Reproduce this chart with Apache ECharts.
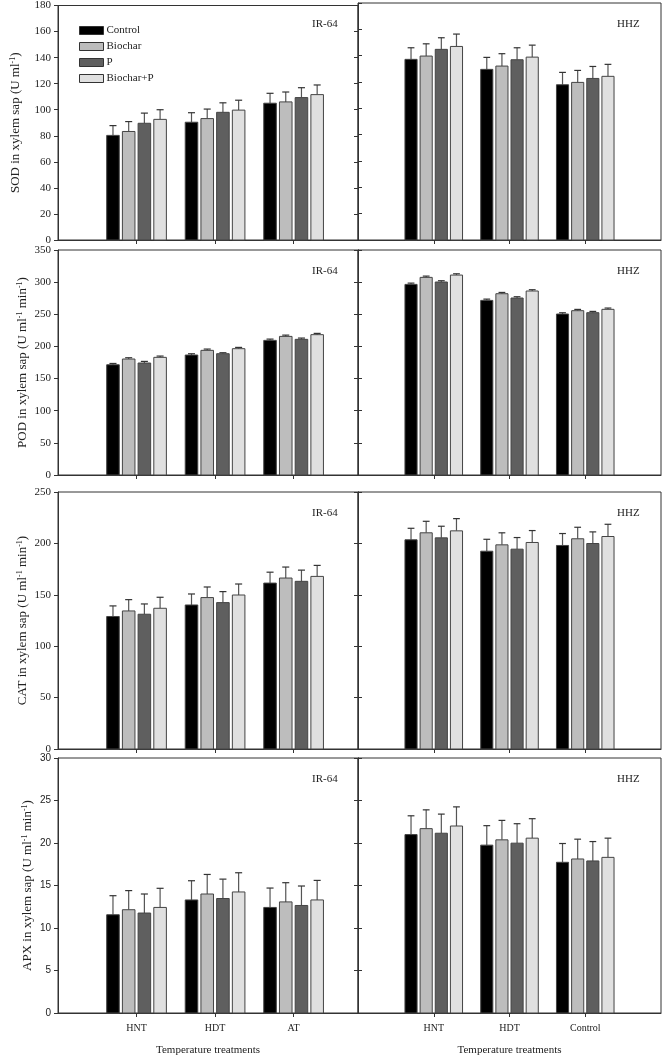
<!DOCTYPE html>
<html><head><meta charset="utf-8">
<script src="https://cdn.jsdelivr.net/npm/echarts@6/dist/echarts.min.js"></script>
<style>html,body{margin:0;padding:0;background:#fff}#c{width:664px;height:1057px}</style>
</head><body><div id="c"></div>
<script>
const treatments = ['Control', 'Biochar', 'P', 'Biochar+P'];
const catsIR64 = ['HNT', 'HDT', 'AT'];
const catsHHZ = ['HNT', 'HDT', 'Control'];
const cultivars = ['IR-64', 'HHZ'];

// rows = treatments, columns = categories
const sodIR64 = [[80.3, 90.4, 105.0], [83.3, 93.2, 106.0], [89.6, 98.0, 109.3], [92.6, 99.7, 111.6]];
const sodIR64Err = [[7.5, 7.3, 7.6], [7.6, 7.3, 7.6], [7.8, 7.3, 7.6], [7.4, 7.6, 7.4]];
const sodHHZ = [[137.2, 129.6, 117.9], [139.7, 132.1, 119.7], [144.8, 136.9, 122.7], [147.0, 138.9, 124.3]];
const sodHHZErr = [[8.8, 9.1, 9.4], [9.3, 9.4, 9.1], [8.8, 9.1, 9.1], [9.4, 9.1, 9.1]];

const podIR64 = [[171.5, 186.6, 209.4], [180.4, 193.9, 215.6], [174.2, 188.7, 211.0], [183.0, 196.5, 218.3]];
const podIR64Err = [[2, 2, 2], [2, 2, 2], [2.5, 1.5, 2], [2, 2, 2]];
const podHHZ = [[296.5, 271.6, 250.4], [307.4, 282.0, 255.6], [300.2, 275.3, 252.5], [311.0, 286.2, 257.7]];
const podHHZErr = [[2, 2, 2], [2, 2, 2], [2, 2, 2], [2, 2, 2]];

const catIR64 = [[128.9, 140.1, 161.4], [134.3, 147.3, 166.3], [131.1, 142.4, 163.1], [136.9, 149.8, 167.9]];
const catIR64Err = [[10.3, 10.7, 10.6], [11.0, 10.3, 10.7], [10.0, 10.7, 10.9], [10.7, 10.7, 10.7]];
const catHHZ = [[203.5, 192.4, 198.0], [210.3, 198.6, 204.5], [205.4, 194.4, 199.9], [212.2, 200.9, 206.7]];
const catHHZErr = [[11.2, 11.6, 11.6], [11.2, 11.7, 11.2], [11.3, 11.3, 11.3], [11.9, 11.6, 11.9]];

const apxIR64 = [[11.56, 13.30, 12.42], [12.15, 14.00, 13.07], [11.76, 13.47, 12.65], [12.42, 14.24, 13.30]];
const apxIR64Err = [[2.24, 2.26, 2.28], [2.25, 2.30, 2.26], [2.24, 2.28, 2.29], [2.25, 2.26, 2.30]];
const apxHHZ = [[20.99, 19.75, 17.73], [21.69, 20.37, 18.12], [21.15, 19.98, 17.89], [22.00, 20.57, 18.31]];
const apxHHZErr = [[2.21, 2.29, 2.21], [2.21, 2.29, 2.33], [2.25, 2.29, 2.28], [2.25, 2.29, 2.26]];

const yMax = [180, 350, 250, 30];
const yInterval = [20, 50, 50, 5];
const yNames = [
  'SOD in xylem sap (U ml{sup|-1})',
  'POD in xylem sap (U ml{sup|-1} min{sup|-1})',
  'CAT in xylem sap (U ml{sup|-1} min{sup|-1})',
  'APX in xylem sap (U ml{sup|-1} min{sup|-1})'
];

const colors = ['#000000', '#bdbdbd', '#5f5f5f', '#e0e0e0'];
const offsets = [-0.3, -0.1, 0.1, 0.3];
const barW = 0.16;

const rows = [
  [[sodIR64, sodIR64Err], [sodHHZ, sodHHZErr]],
  [[podIR64, podIR64Err], [podHHZ, podHHZErr]],
  [[catIR64, catIR64Err], [catHHZ, catHHZErr]],
  [[apxIR64, apxIR64Err], [apxHHZ, apxHHZErr]]
];
const gridTop = [3, 250, 492, 758];
const gridH = [237, 225, 257, 258];
const nameGaps = [36, 29, 29, 24];
const SERIF = 'Liberation Serif';
const SANS = 'Liberation Sans';

const grids = [], xAxes = [], yAxes = [], series = [], titles = [];
let gi = 0;
for (let r = 0; r < 4; r++) {
  for (let c = 0; c < 2; c++) {
    const left = c === 0 ? 58 : 358;
    const width = c === 0 ? 300 : 303;
    grids.push({ left: left, top: gridTop[r], width: width, height: gridH[r], show: true, borderColor: '#333', borderWidth: 1, backgroundColor: 'transparent' });
    const cats = c === 0 ? catsIR64 : catsHHZ;
    const isBottom = r === 3;
    xAxes.push({
      type: 'value', gridIndex: gi, min: 0, max: c === 0 ? 3.82 : 4.0, interval: 1,
      axisLine: { show: true, lineStyle: { color: '#333', width: 1 } },
      axisTick: { show: true, inside: false, length: 4, customValues: [1, 2, 3], lineStyle: { color: '#333' } },
      splitLine: { show: false },
      axisLabel: {
        show: isBottom, customValues: [1, 2, 3], margin: 10,
        fontFamily: SERIF, fontSize: 10, color: '#222',
        formatter: v => cats[Math.round(v) - 1] || ''
      },
      name: isBottom ? 'Temperature treatments' : '', nameLocation: 'middle', nameGap: 32,
      nameTextStyle: { fontFamily: SERIF, fontSize: 11, color: '#222' }
    });
    const ySans = r === 3;
    yAxes.push({
      type: 'value', gridIndex: gi, min: 0, max: yMax[r], interval: yInterval[r], position: 'left',
      axisLine: { show: true, lineStyle: { color: '#333', width: 1 } },
      axisTick: { show: true, inside: c === 1, length: 4, lineStyle: { color: '#333' } },
      splitLine: { show: false },
      axisLabel: { show: c === 0, margin: 7, fontFamily: ySans ? SANS : SERIF, fontSize: ySans ? 10 : 11, color: '#222' },
      name: c === 0 ? yNames[r] : '', nameLocation: 'middle', nameRotate: 90, nameGap: nameGaps[r],
      nameTextStyle: {
        fontFamily: SERIF, fontSize: 13, color: '#222',
        rich: { sup: { fontFamily: SERIF, fontSize: 8, verticalAlign: 'top', color: '#222' } }
      }
    });
    if (c === 0) {
      yAxes.push({
        type: 'value', gridIndex: gi, min: 0, max: yMax[r], interval: yInterval[r], position: 'right',
        axisLine: { show: true, lineStyle: { color: '#333', width: 1 } },
        axisTick: { show: true, inside: true, length: 4, lineStyle: { color: '#333' } },
        splitLine: { show: false }, axisLabel: { show: false }
      });
    }
    const yIdx = yAxes.length - (c === 0 ? 2 : 1);
    const [means, errs] = rows[r][c];
    for (let t = 0; t < 4; t++) {
      const data = means[t].map((m, k) => [k + 1, m, errs[t][k]]);
      series.push({
        type: 'custom', name: treatments[t], xAxisIndex: gi, yAxisIndex: yIdx,
        itemStyle: { color: colors[t], borderColor: '#333', borderWidth: 1 },
        data: data, clip: false, z: 5,
        renderItem: (function (tt) {
          return function (params, api) {
            const x = api.value(0) + offsets[tt];
            const v = api.value(1), e = api.value(2);
            const p0 = api.coord([x - barW / 2, 0]);
            const p1 = api.coord([x + barW / 2, v]);
            const pe = api.coord([x, v + e]);
            const pc = api.coord([x, v]);
            const capL = api.coord([x - barW * 0.28, v + e]);
            const capR = api.coord([x + barW * 0.28, v + e]);
            return {
              type: 'group', children: [
                { type: 'line', shape: { x1: pc[0], y1: pc[1], x2: pe[0], y2: pe[1] }, style: { stroke: '#555', lineWidth: 1.2 } },
                { type: 'line', shape: { x1: capL[0], y1: capL[1], x2: capR[0], y2: capR[1] }, style: { stroke: '#333', lineWidth: 1.2 } },
                { type: 'rect', shape: { x: p0[0], y: p1[1], width: p1[0] - p0[0], height: p0[1] - p1[1] },
                  style: { fill: colors[tt], stroke: '#444', lineWidth: 1 } }
              ]
            };
          };
        })(t)
      });
    }
    titles.push({
      text: cultivars[c], left: c === 0 ? 307 : 612, top: gridTop[r] + 11,
      textStyle: { fontFamily: SERIF, fontSize: 11, fontWeight: 'normal', color: '#222' }
    });
    gi++;
  }
}

const chart = echarts.init(document.getElementById('c'), null, { renderer: 'canvas' });
chart.setOption({
  animation: false,
  backgroundColor: '#fff',
  title: titles,
  legend: {
    orient: 'vertical', left: 74, top: 20, itemWidth: 24, itemHeight: 8, itemGap: 5,
    icon: 'rect',
    textStyle: { fontFamily: SERIF, fontSize: 11, color: '#222', padding: [0, 0, 0, -2] },
    data: treatments.map((n, i) => ({ name: n, itemStyle: { color: colors[i], borderColor: '#333', borderWidth: 1 } }))
  },
  grid: grids, xAxis: xAxes, yAxis: yAxes, series: series
});
</script></body></html>
